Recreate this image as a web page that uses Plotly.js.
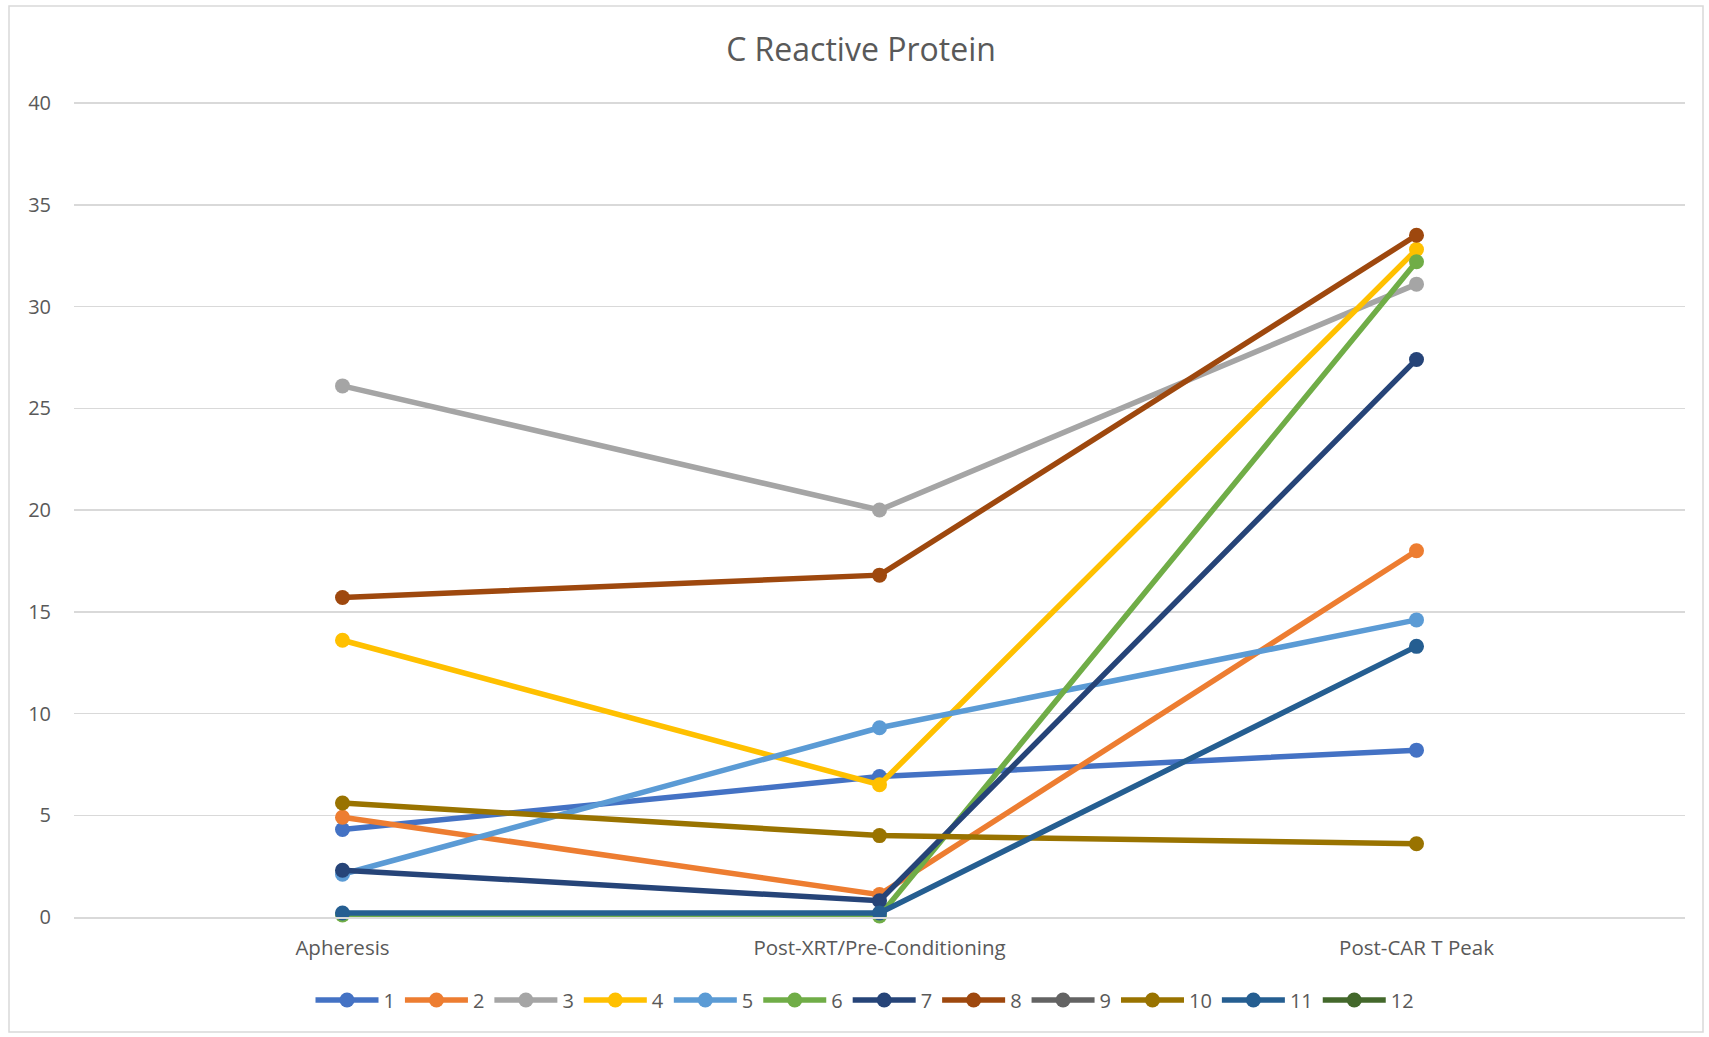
<!DOCTYPE html>
<html>
<head>
<meta charset="utf-8">
<script src="https://cdn.plot.ly/plotly-3.0.1.min.js"></script>
<style>
html,body{margin:0;padding:0;background:#fff;}
#chart{width:1709px;height:1037px;}
</style>
</head>
<body>
<div id="chart"></div>
<script>
const categories = ["Apheresis", "Post-XRT/Pre-Conditioning", "Post-CAR T Peak"];
const seriesNames = ["1","2","3","4","5","6","7","8","9","10","11","12"];
const s1 = [4.3, 6.9, 8.2];
const s2 = [4.9, 1.1, 18.0];
const s3 = [26.1, 20.0, 31.1];
const s4 = [13.6, 6.5, 32.8];
const s5 = [2.1, 9.3, 14.6];
const s6 = [0.1, 0.05, 32.2];
const s7 = [2.3, 0.8, 27.4];
const s8 = [15.7, 16.8, 33.5];
const s9 = [null, null, null];
const s10 = [5.6, 4.0, 3.6];
const s11 = [0.2, 0.2, 13.3];
const s12 = [null, null, null];
const yTicks = [0, 5, 10, 15, 20, 25, 30, 35, 40];

const seriesValues = [s1,s2,s3,s4,s5,s6,s7,s8,s9,s10,s11,s12];
const colors = ["#4472C4","#ED7D31","#A5A5A5","#FFC000","#5B9BD5","#70AD47","#264478","#9E480E","#636363","#997300","#255E91","#43682B"];

const traces = seriesValues.map((v, i) => ({
  type: "scatter",
  mode: "lines+markers",
  name: seriesNames[i],
  x: categories,
  y: v,
  line: {color: colors[i], width: 5.5},
  marker: {color: colors[i], size: 15},
  cliponaxis: false
}));

const W = 1709, H = 1037;
const m = {l: 74, r: 24, t: 101, b: 120};
const pw = W - m.l - m.r, ph = H - m.t - m.b;
const px = x => (x - m.l) / pw;
const py = y => (H - m.b - y) / ph;

const layout = {
  width: W, height: H,
  margin: m,
  paper_bgcolor: "#fff",
  plot_bgcolor: "#fff",
  font: {family: "Open Sans, sans-serif", color: "#595959", size: 20},
  title: {
    text: "C Reactive Protein",
    font: {size: 32, color: "#595959", family: "Open Sans, sans-serif"},
    x: 861 / W, xref: "container", xanchor: "center",
    y: 1 - 50 / H, yref: "container", yanchor: "middle"
  },
  xaxis: {
    type: "category",
    range: [-0.5, 2.5],
    showgrid: false,
    showline: true,
    linecolor: "#d9d9d9",
    linewidth: 1.5,
    ticks: "",
    ticklabelstandoff: 12,
    tickfont: {size: 20.5, color: "#595959"},
    zeroline: false,
    fixedrange: true
  },
  yaxis: {
    range: [0, 40.1],
    tickvals: yTicks,
    ticktext: yTicks.map(String),
    showgrid: true,
    gridcolor: "#d9d9d9",
    gridwidth: 1.5,
    zeroline: false,
    showline: false,
    ticks: "",
    ticklabelstandoff: 22,
    tickfont: {size: 20, color: "#595959"},
    fixedrange: true
  },
  showlegend: true,
  legend: {
    orientation: "h",
    x: px(865), xref: "paper", xanchor: "center",
    y: py(1000), yanchor: "middle",
    font: {size: 20, color: "#595959"},
    itemwidth: 63,
    traceorder: "normal"
  },
  shapes: [{
    type: "rect", xref: "paper", yref: "paper",
    x0: px(9), x1: px(1703), y0: py(1032), y1: py(6),
    line: {color: "#d9d9d9", width: 1.5},
    fillcolor: "rgba(0,0,0,0)",
    layer: "below"
  }]
};

Plotly.newPlot("chart", traces, layout, {displayModeBar: false, staticPlot: true});
</script>
</body>
</html>
